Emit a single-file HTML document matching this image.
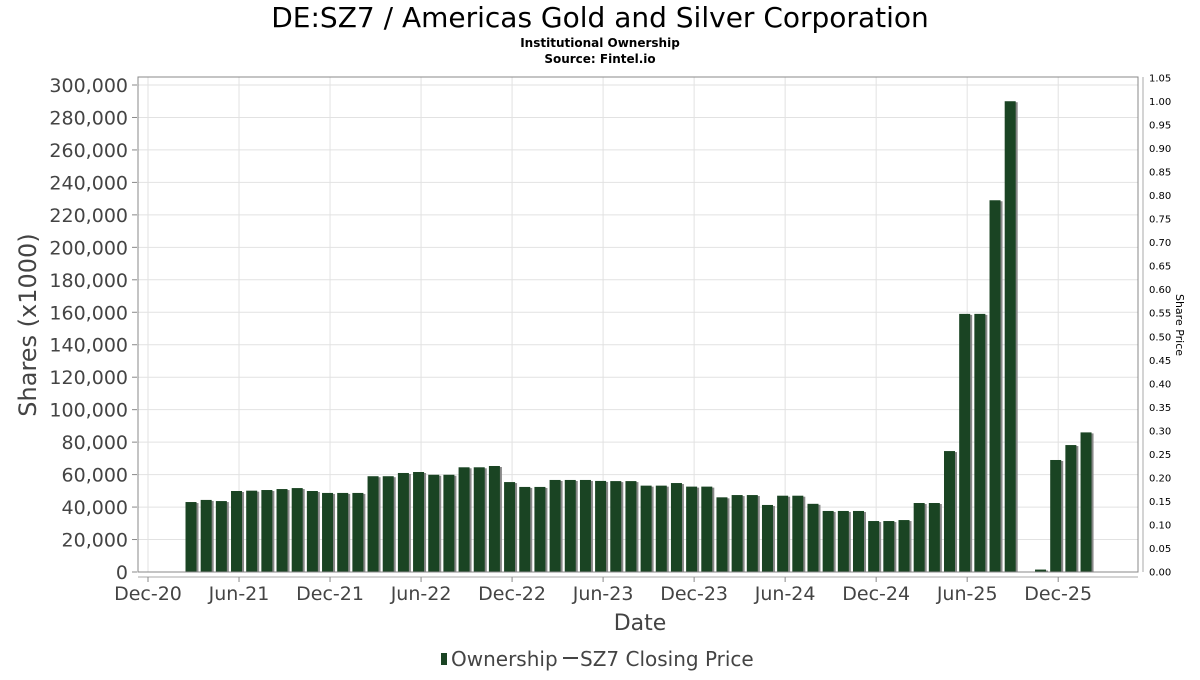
<!DOCTYPE html>
<html><head><meta charset="utf-8"><style>
html,body{margin:0;padding:0;background:#fff;}
svg text{font-family:"DejaVu Sans","Liberation Sans",sans-serif;}
</style></head><body>
<svg id="chart" width="1200" height="675" xmlns="http://www.w3.org/2000/svg">
<text x="600" y="27" font-size="28" text-anchor="middle" fill="#000">DE:SZ7 / Americas Gold and Silver Corporation</text>
<text x="600" y="47" font-size="12" font-weight="bold" text-anchor="middle">Institutional Ownership</text>
<text x="600" y="63" font-size="12" font-weight="bold" text-anchor="middle">Source: Fintel.io</text>
<g id="grid"></g>
<g id="bars"></g>
<rect x="138" y="77" width="1000" height="495" fill="none" stroke="#888" stroke-width="1"/>
<line x1="1143" y1="77" x2="1143" y2="572" stroke="#aaa"/>
<line x1="138" y1="577" x2="1138" y2="577" stroke="#aaa"/>
<g id="yticks"></g>
<g id="rticks"></g>
<g id="xticks"></g>
<text x="640" y="630" font-size="22" text-anchor="middle" fill="#444">Date</text>
<text transform="translate(36,325) rotate(-90)" font-size="24" text-anchor="middle" fill="#444">Shares (x1000)</text>
<text transform="translate(1176,325) rotate(90)" font-size="11" text-anchor="middle" fill="#000">Share Price</text>
<g>
<rect x="441" y="653" width="6" height="12" fill="#1a4423"/>
<text x="451" y="666" font-size="20" fill="#444">Ownership</text>
<line x1="563" y1="658" x2="578" y2="658" stroke="#444" stroke-width="2"/>
<text x="580" y="666" font-size="20" fill="#444">SZ7 Closing Price</text>
</g>
</svg>
<script>
const ownership=[null,null,null,43.1,44.4,43.7,49.9,50.1,50.5,51.1,51.7,49.9,48.7,48.7,48.7,59,59,61,61.6,59.9,59.9,64.5,64.5,65.3,55.4,52.4,52.4,56.7,56.7,56.7,56.1,56,56,53.2,53.2,54.8,52.6,52.6,46,47.4,47.4,41.3,47,47,42,37.6,37.6,37.6,31.4,31.4,32,42.5,42.5,74.5,159,159,229,290,null,1.5,69,78.2,86];
const yTicks=[0,20,40,60,80,100,120,140,160,180,200,220,240,260,280,300];
const rTicks=[0,0.05,0.1,0.15,0.2,0.25,0.3,0.35,0.4,0.45,0.5,0.55,0.6,0.65,0.7,0.75,0.8,0.85,0.9,0.95,1.0,1.05];
const xLabels=["Dec-20","Jun-21","Dec-21","Jun-22","Dec-22","Jun-23","Dec-23","Jun-24","Dec-24","Jun-25","Dec-25"];
const NS="http://www.w3.org/2000/svg";
function xS(i){return 148+i*15.17;}
function yS(v){return 572-v*(487/300);}
function rS(v){return 572-v*(494/1.05);}
function mk(t,a,p){const e=document.createElementNS(NS,t);for(const k in a)e.setAttribute(k,a[k]);p.appendChild(e);return e;}
const grid=document.getElementById('grid'),bars=document.getElementById('bars'),yt=document.getElementById('yticks'),rt=document.getElementById('rticks'),xt=document.getElementById('xticks');
yTicks.forEach(v=>{const y=yS(v);
 const g=mk('line',{x1:138,x2:1138,y1:y,y2:y,stroke:'#e2e2e2'},grid);
 
 
 const tk=mk('line',{x1:132,x2:137,y1:y,y2:y,stroke:'#888'},yt);
 
 
 const t=mk('text',{x:128,y:y+7,'font-size':19,'text-anchor':'end',fill:'#444'},yt);
 t.textContent=(v*1000).toLocaleString('en-US');
 
 });
rTicks.forEach(v=>{const y=rS(v);
 const t=mk('text',{x:1149,y:y+3.5,'font-size':10,fill:'#000'},rt);
 t.textContent=v.toFixed(2);
 
 });
xLabels.forEach((l,k)=>{const x=xS(k*6);
 const g=mk('line',{x1:x,x2:x,y1:77,y2:572,stroke:'#e2e2e2'},grid);
 
 
 const tk=mk('line',{x1:x,x2:x,y1:577,y2:582,stroke:'#888'},xt);
 
 
 const t=mk('text',{x:x,y:600,'font-size':19,'text-anchor':'middle',fill:'#444'},xt);
 t.textContent=l;
 
 });
ownership.forEach((v,i)=>{if(v==null)return;const x=xS(i)-8,y=yS(v),h=572-y;
 const s=mk('rect',{x:x+2,y:y+1,width:11,height:h-1,fill:'#888'},bars);
 
 
 const b=mk('rect',{x:x,y:y,width:11,height:h,fill:'#1a4423'},bars);
 
 });
</script>
</body></html>
